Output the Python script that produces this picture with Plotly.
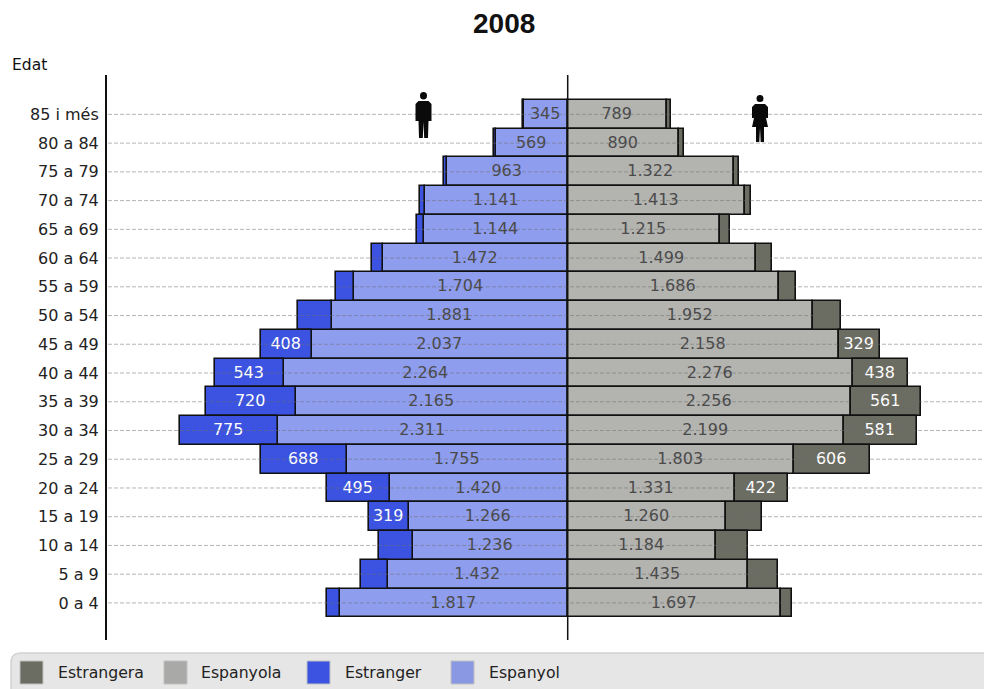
import plotly.graph_objects as go

W, H = 984, 689
L, R, T, B = 107, 984, 75, 640
FONT = "DejaVu Sans"

age_groups = ["85 i més", "80 a 84", "75 a 79", "70 a 74", "65 a 69", "60 a 64", "55 a 59", "50 a 54", "45 a 49",
              "40 a 44", "35 a 39", "30 a 34", "25 a 29", "20 a 24", "15 a 19", "10 a 14", "5 a 9", "0 a 4"]
espanyol = [345, 569, 963, 1141, 1144, 1472, 1704, 1881, 2037, 2264, 2165, 2311, 1755, 1420, 1266, 1236, 1432, 1817]
estranger = [15, 20, 23, 36, 56, 88, 144, 272, 408, 543, 720, 775, 688, 495, 319, 268, 216, 103]
espanyola = [789, 890, 1322, 1413, 1215, 1499, 1686, 1952, 2158, 2276, 2256, 2199, 1803, 1331, 1260, 1184, 1435, 1697]
estrangera = [34, 38, 46, 50, 75, 125, 136, 224, 329, 438, 561, 581, 606, 422, 292, 250, 237, 90]
legend_names = ["Estrangera", "Espanyola", "Estranger", "Espanyol"]
legend_colors = ["#6b6c62", "#a9a9a7", "#3b53e0", "#8a98e4"]

C_ESP_M, C_EST_M, C_ESP_F, C_EST_F = "#8f9dee", "#3b53e0", "#b3b3b0", "#6b6c62"


def fmt(v):
    return f"{v:,}".replace(",", ".")


def labels(vals, minimum=0):
    return [fmt(v) if v >= minimum else "" for v in vals]


def px(x):
    return (x - L) / (R - L)


def py(y):
    return (B - y) / (B - T)


def bar(name, vals, color, sign, text, text_color):
    return go.Bar(
        name=name, y=age_groups, x=[sign * v for v in vals], orientation="h",
        marker=dict(color=color, line=dict(color="#111111", width=1.6)),
        text=text, textposition="inside", insidetextanchor="middle", textangle=0,
        constraintext="none", cliponaxis=False,
        textfont=dict(family=FONT, size=16, color=text_color),
        hoverinfo="name+x+y",
    )


fig = go.Figure([
    bar("Espanyol", espanyol, C_ESP_M, -1, labels(espanyol), "#4a4a4a"),
    bar("Estranger", estranger, C_EST_M, -1, labels(estranger, 300), "#ffffff"),
    bar("Espanyola", espanyola, C_ESP_F, 1, labels(espanyola), "#4a4a4a"),
    bar("Estrangera", estrangera, C_EST_F, 1, labels(estrangera, 300), "#ffffff"),
])

shapes = []
# dashed grid drawn over the bars
for g in age_groups:
    shapes.append(dict(type="line", xref="paper", yref="y", x0=px(108), x1=1, y0=g, y1=g, layer="above",
                       line=dict(color="rgba(110,110,110,0.5)", width=1, dash="4px,2px")))
# centre line
shapes.append(dict(type="line", xref="x", yref="paper", x0=0, x1=0, y0=0, y1=1, layer="above",
                   line=dict(color="#111111", width=1.5)))
# legend panel
lx0, lx1, ly0, ly1, r = 11, 990, 653, 695, 10
shapes.append(dict(type="path", xref="paper", yref="paper", layer="above",
                   path=f"M{px(lx0)},{py(ly0 + r)} Q{px(lx0)},{py(ly0)} {px(lx0 + r)},{py(ly0)} "
                        f"L{px(lx1)},{py(ly0)} L{px(lx1)},{py(ly1)} L{px(lx0)},{py(ly1)} Z",
                   fillcolor="#e6e6e6", line=dict(color="#d2d2d2", width=1.5)))
annotations = [
    dict(text="<b>2008</b>", xref="paper", yref="paper", x=px(503.5), y=py(24), xanchor="center", yanchor="middle",
         showarrow=False, font=dict(family="Liberation Sans", size=28, color="#111111")),
    dict(text="Edat", xref="paper", yref="paper", x=px(10), y=py(65), xanchor="left", yanchor="middle",
         showarrow=False, font=dict(family=FONT, size=15.5, color="#111111")),
]
for name, col, sx, tx in zip(legend_names, legend_colors, [20, 164, 307, 451], [56, 199, 343, 487]):
    shapes.append(dict(type="rect", xref="paper", yref="paper", x0=px(sx), x1=px(sx + 23), y0=py(661), y1=py(684),
                       layer="above", fillcolor=col, line=dict(color="#c0c0c0", width=1)))
    annotations.append(dict(text=name, xref="paper", yref="paper", x=px(tx), y=py(672), xanchor="left",
                            yanchor="middle", showarrow=False,
                            font=dict(family=FONT, size=15.7, color="#222222")))


def poly(points):
    return "M" + " L".join(f"{px(a)},{py(b)}" for a, b in points) + " Z"


def icon(path, color="#0a0a0a"):
    shapes.append(dict(type="path", xref="paper", yref="paper", layer="above", path=path,
                       fillcolor=color, line=dict(width=0)))


# man
mx = 423.5
shapes.append(dict(type="circle", xref="paper", yref="paper", layer="above", x0=px(mx - 3.5), x1=px(mx + 3.5),
                   y0=py(92), y1=py(99.5), fillcolor="#0a0a0a", line=dict(width=0)))
icon(poly([(mx - 5, 101), (mx + 5, 101), (mx + 8, 104), (mx + 8, 121), (mx + 5, 121), (mx + 4.5, 138),
           (mx + 0.7, 138), (mx, 122), (mx - 0.7, 138), (mx - 4.5, 138), (mx - 5, 121), (mx - 8, 121),
           (mx - 8, 104)]))
# woman
wx = 760
shapes.append(dict(type="circle", xref="paper", yref="paper", layer="above", x0=px(wx - 3.5), x1=px(wx + 3.5),
                   y0=py(95), y1=py(102), fillcolor="#0a0a0a", line=dict(width=0)))
icon(poly([(wx - 5, 104), (wx + 5, 104), (wx + 8, 107), (wx + 8, 118), (wx + 6, 118), (wx + 8, 127), (wx + 4, 127),
           (wx + 4, 142), (wx + 0.7, 142), (wx, 128), (wx - 0.7, 142), (wx - 4, 142), (wx - 4, 127), (wx - 8, 127),
           (wx - 6, 118), (wx - 8, 118), (wx - 8, 107)]))

fig.update_layout(
    width=W, height=H, barmode="relative", bargap=0,
    margin=dict(l=L, r=W - R, t=T, b=H - B, autoexpand=False),
    paper_bgcolor="white", plot_bgcolor="white", showlegend=False,
    shapes=shapes, annotations=annotations,
    xaxis=dict(range=[-3671, 3317], visible=False, showgrid=False, zeroline=False),
    yaxis=dict(categoryorder="array", categoryarray=age_groups, range=[18.29, -1.37], showgrid=False,
               showline=True, linecolor="#111111", linewidth=2, ticks="outside", ticklen=3,
               tickcolor="rgba(0,0,0,0)", tickfont=dict(family=FONT, size=16, color="#222222"), zeroline=False),
    font=dict(family=FONT),
)
fig.write_html("out.html", config=dict(displayModeBar=False),
               post_script="document.body.style.margin='0';document.body.style.overflow='hidden';")
